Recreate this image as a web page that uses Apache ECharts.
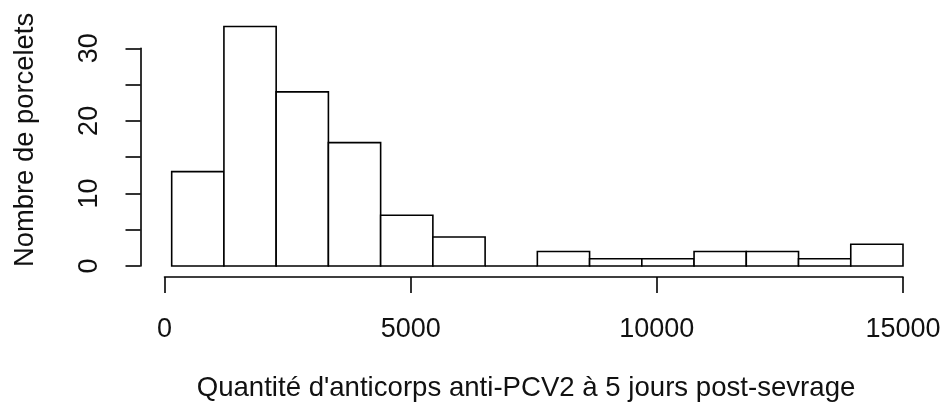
<!DOCTYPE html>
<html>
<head>
<meta charset="utf-8">
<script src="https://cdn.jsdelivr.net/npm/echarts@6/dist/echarts.min.js"></script>
<style>html,body{margin:0;padding:0;background:#fff;}#c{width:944px;height:412px;}</style>
</head>
<body>
<div id="c"></div>
<script>
// Histogram breaks (bin edges) and counts
const breaks = [146, 1207, 2268, 3329, 4390, 5451, 6512, 7573, 8634, 9695, 10756, 11817, 12878, 13939, 15000];
const counts = [13, 33, 24, 17, 7, 4, 0, 2, 1, 1, 2, 2, 1, 3];
const xTicks = [0, 5000, 10000, 15000];
const yTicks = [0, 10, 20, 30];
const xTitle = "Quantité d'anticorps anti-PCV2 à 5 jours post-sevrage";
const yTitle = "Nombre de porcelets";

const data = counts.map((c, i) => [breaks[i], breaks[i + 1], c]);
const FONT = 'Liberation Sans, Arial, sans-serif';
const TXT = '#111';

const chart = echarts.init(document.getElementById('c'), null, {renderer: 'canvas'});
chart.setOption({
  animation: false,
  backgroundColor: '#fff',
  grid: {left: 164.5, right: 41, top: 48.3, bottom: 146},
  xAxis: {
    type: 'value', min: xTicks[0], max: xTicks[xTicks.length - 1], interval: 5000,
    offset: 11,
    axisLine: {show: true, onZero: false, lineStyle: {color: '#000', width: 1.6}},
    axisTick: {show: true, length: 16, inside: false, lineStyle: {color: '#000', width: 1.6}},
    axisLabel: {show: true, margin: 39, fontSize: 27, fontFamily: FONT, color: TXT,
      formatter: v => xTicks.includes(v) ? String(v) : ''},
    splitLine: {show: false}
  },
  yAxis: {
    type: 'value', min: 0, max: yTicks[yTicks.length - 1], interval: 5,
    offset: 24,
    axisLine: {show: true, onZero: false, lineStyle: {color: '#000', width: 1.6}},
    axisTick: {show: true, length: 15, lineStyle: {color: '#000', width: 1.6}},
    axisLabel: {show: true, rotate: 90, margin: 37, fontSize: 27, fontFamily: FONT, color: TXT,
      formatter: v => yTicks.includes(v) ? String(v) : ''},
    splitLine: {show: false}
  },
  graphic: [
    {type: 'text', x: 526, y: 388, style: {text: xTitle, font: '27.6px ' + FONT, fill: TXT, textAlign: 'center', textVerticalAlign: 'middle'}},
    {type: 'text', x: 25, y: 140, rotation: Math.PI / 2, style: {text: yTitle, font: '27.4px ' + FONT, fill: TXT, textAlign: 'center', textVerticalAlign: 'middle'}}
  ],
  series: [{
    type: 'custom',
    clip: false,
    data: data,
    encode: {x: [0, 1], y: 2},
    renderItem: function (params, api) {
      const p0 = api.coord([api.value(0), 0]);
      const p1 = api.coord([api.value(1), api.value(2)]);
      return {
        type: 'rect',
        shape: {x: p0[0], y: p1[1], width: p1[0] - p0[0], height: p0[1] - p1[1]},
        style: {fill: '#fff', stroke: '#000', lineWidth: 1.6}
      };
    }
  }]
});
</script>
</body>
</html>
